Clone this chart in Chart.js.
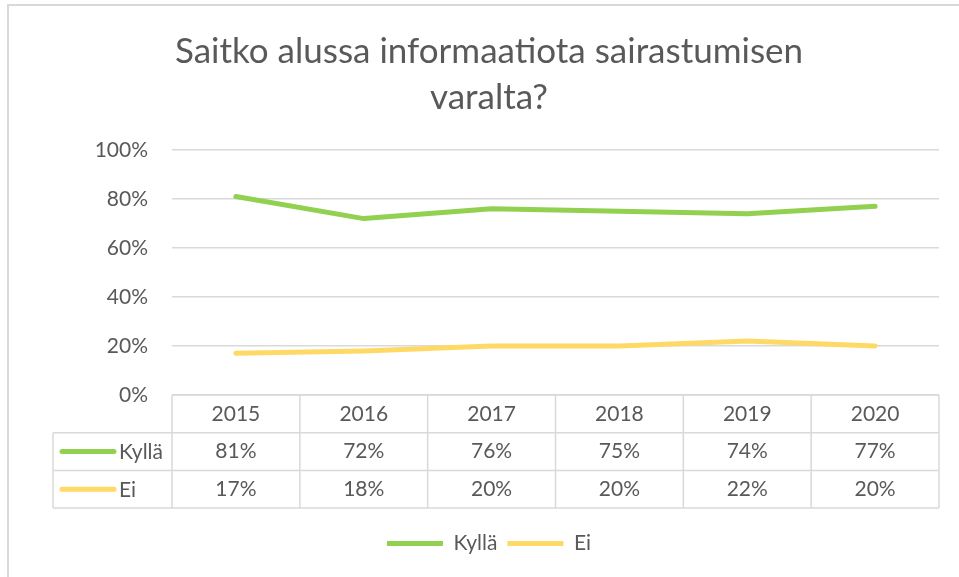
<!DOCTYPE html>
<html>
<head>
  <title>Saitko alussa informaatiota</title>
  <script src="https://cdn.jsdelivr.net/npm/chart.js"></script>
  <style>
    body { margin: 0; background: #fff; }
  </style>
</head>
<body>
<canvas id="myChart" width="959" height="577"></canvas>

<script>
// data
const years = ['2015', '2016', '2017', '2018', '2019', '2020'];
const kyllaValues = [81, 72, 76, 75, 74, 77];
const eiValues = [17, 18, 20, 20, 22, 20];
const seriesNames = ['Kyllä', 'Ei'];
const seriesColors = ['#92d050', '#ffd966'];
const yTickStep = 20;
const titleLines = ['Saitko alussa informaatiota sairastumisen', 'varalta?'];

const textColor = '#595959';
const lineGrey = '#d9d9d9';
const fontFamily = 'Lato, "Open Sans", sans-serif';

// white background + the excel chart frame
const framePlugin = {
  id: 'frame',
  beforeDraw(chart) {
    const ctx = chart.ctx;
    ctx.save();
    ctx.fillStyle = '#fff';
    ctx.fillRect(0, 0, chart.width, chart.height);
    ctx.strokeStyle = lineGrey;
    ctx.lineWidth = 2;
    ctx.strokeRect(8, 5, chart.width + 20, chart.height + 20);
    ctx.restore();
  }
};

// data table under the plot, columns follow the x scale
const tablePlugin = {
  id: 'dataTable',
  afterDraw(chart) {
    const ctx = chart.ctx;
    const area = chart.chartArea;
    const x = chart.scales.x;
    const rowH = 37.7;
    const top = area.bottom;
    const left = area.left - 119;
    const colW = (area.right - area.left) / years.length;
    const rows = [kyllaValues, eiValues];

    ctx.save();
    ctx.strokeStyle = lineGrey;
    ctx.lineWidth = 1.5;
    ctx.beginPath();
    ctx.moveTo(area.left, top);
    ctx.lineTo(area.right, top);
    for (let r = 1; r <= 3; r++) {
      ctx.moveTo(left, top + r * rowH);
      ctx.lineTo(area.right, top + r * rowH);
    }
    ctx.moveTo(left, top + rowH);
    ctx.lineTo(left, top + 3 * rowH);
    for (let i = 0; i <= years.length; i++) {
      ctx.moveTo(area.left + i * colW, top);
      ctx.lineTo(area.left + i * colW, top + 3 * rowH);
    }
    ctx.stroke();

    ctx.font = '21px ' + fontFamily;
    ctx.fillStyle = textColor;
    ctx.textBaseline = 'middle';
    ctx.textAlign = 'center';
    years.forEach((y, i) => {
      ctx.fillText(y, x.getPixelForValue(i), top + rowH / 2);
    });
    rows.forEach((vals, r) => {
      const cy = top + (r + 1.5) * rowH;
      vals.forEach((v, i) => {
        ctx.fillText(v + '%', x.getPixelForValue(i), cy);
      });
    });

    // row headers with the series key
    ctx.textAlign = 'left';
    ctx.lineCap = 'round';
    ctx.lineWidth = 5;
    seriesNames.forEach((name, r) => {
      const cy = top + (r + 1.5) * rowH;
      ctx.strokeStyle = seriesColors[r];
      ctx.beginPath();
      ctx.moveTo(left + 9, cy);
      ctx.lineTo(left + 61, cy);
      ctx.stroke();
      ctx.fillText(name, left + 66, cy + 1);
    });
    ctx.restore();
  }
};

const chart = new Chart(document.getElementById('myChart'), {
  type: 'line',
  data: {
    labels: years,
    datasets: [{
      label: seriesNames[0],
      data: kyllaValues,
      borderColor: seriesColors[0],
      backgroundColor: seriesColors[0],
      borderWidth: 5,
      borderCapStyle: 'round',
      borderJoinStyle: 'round',
      pointRadius: 0,
      pointStyle: 'line',
      tension: 0
    }, {
      label: seriesNames[1],
      data: eiValues,
      borderColor: seriesColors[1],
      backgroundColor: seriesColors[1],
      borderWidth: 5,
      borderCapStyle: 'round',
      borderJoinStyle: 'round',
      pointRadius: 0,
      pointStyle: 'line',
      tension: 0
    }]
  },
  options: {
    responsive: false,
    animation: false,
    devicePixelRatio: 1,
    layout: { padding: { top: 5, left: 39, right: 20, bottom: 13 } },
    plugins: {
      title: {
        display: true,
        text: titleLines,
        color: textColor,
        font: { family: fontFamily, size: 35, weight: 'normal', lineHeight: 46 / 35 },
        padding: { top: 24, bottom: 29 }
      },
      legend: {
        position: 'bottom',
        labels: {
          usePointStyle: true,
          pointStyleWidth: 56,
          color: textColor,
          font: { family: fontFamily, size: 21 },
          padding: 10
        }
      },
      tooltip: { enabled: false }
    },
    scales: {
      x: {
        offset: true,
        grid: { display: false },
        border: { display: false },
        ticks: { display: false },
        afterFit: (s) => { s.height = 128; }
      },
      y: {
        min: 0,
        max: 100,
        grid: { color: lineGrey, lineWidth: 1.5, drawTicks: false },
        border: { display: false },
        ticks: {
          stepSize: yTickStep,
          padding: 24,
          color: textColor,
          font: { family: fontFamily, size: 21 },
          callback: (v) => v + '%'
        },
        afterFit: (s) => { s.width = 133; }
      }
    }
  },
  plugins: [framePlugin, tablePlugin]
});
</script>
</body>
</html>
